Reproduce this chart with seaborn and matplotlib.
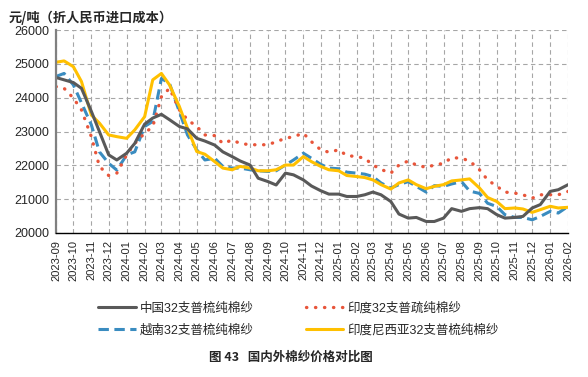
import pandas as pd
import matplotlib
matplotlib.use('Agg')
import matplotlib.pyplot as plt
import matplotlib.dates as mdates
import seaborn as sns
import numpy as np

# 半月度数据 (2023-09 ~ 2026-02)
dates = pd.date_range('2023-09-01', periods=59, freq='SMS')

china = [24600, 24530, 24450, 24280, 23600, 23000, 22310, 22160, 22360, 22650,
         23220, 23400, 23510, 23350, 23150, 23080, 22800, 22720, 22600, 22400,
         22260, 22130, 22010, 21620, 21520, 21420, 21770, 21720, 21570, 21390,
         21250, 21150, 21150, 21080, 21080, 21130, 21210, 21130, 20930, 20560,
         20440, 20460, 20340, 20340, 20440, 20720, 20640, 20720, 20750, 20720,
         20540, 20440, 20460, 20490, 20740, 20840, 21230, 21280, 21430]

india = [24330, 24280, 23990, 23640, 22850, 21970, 21700, 21770, 22310, 22650,
         22950, 23150, 24030, 24280, 23640, 23350, 23150, 22900, 22880, 22650,
         22750, 22650, 22610, 22610, 22610, 22700, 22800, 22850, 22950, 22700,
         22460, 22390, 22460, 22290, 22260, 22210, 22010, 21880, 21770, 22010,
         22130, 22010, 21940, 22010, 22060, 22230, 22210, 22130, 21870, 21570,
         21380, 21210, 21180, 21130, 21030, 21130, 21130, 21130, 21230]

vietnam = [24630, 24720, 24380, 23850, 23200, 22400, 22060, 21860, 22310, 22400,
           23150, 23300, 24570, 24420, 23590, 22900, 22460, 22160, 22210, 21970,
           21920, 21920, 21870, 21840, 21820, 21840, 22010, 22160, 22360, 22210,
           22030, 21920, 21900, 21800, 21770, 21740, 21670, 21480, 21330, 21430,
           21520, 21380, 21210, 21400, 21380, 21450, 21520, 21240, 21170, 20880,
           20780, 20540, 20460, 20460, 20390, 20490, 20640, 20590, 20790]

indonesia = [25050, 25090, 24920, 24480, 23490, 23250, 22900, 22850, 22800, 23050,
             23440, 24530, 24720, 24380, 23740, 23100, 22410, 22330, 22110, 21920,
             21870, 21970, 21920, 21840, 21840, 21870, 22010, 22010, 22260, 22110,
             21970, 21870, 21840, 21700, 21670, 21640, 21570, 21430, 21300, 21480,
             21570, 21430, 21310, 21380, 21430, 21540, 21570, 21600, 21330, 21050,
             20930, 20720, 20740, 20710, 20610, 20690, 20790, 20740, 20760]

series_names = ['中国32支普梳纯棉纱', '印度32支普疏纯棉纱', '越南32支普梳纯棉纱', '印度尼西亚32支普梳纯棉纱']
series_vals = [china, india, vietnam, indonesia]

tick_months = pd.date_range('2023-09-01', '2026-02-01', freq='MS')

sns.set_style('white')
plt.rcParams['font.family'] = ['Liberation Sans', 'Noto Sans CJK SC']
plt.rcParams['axes.unicode_minus'] = False

fig = plt.figure(figsize=(5.88, 3.77), dpi=100)
ax = fig.add_axes([0.0952, 0.382, 0.871, 0.538])

styles = {
    '中国32支普梳纯棉纱': dict(color='#595959', linestyle='-', linewidth=2.2),
    '印度32支普疏纯棉纱': dict(color='#E8553A', linestyle=(0, (0.1, 2.6)), linewidth=2.4,
                          dash_capstyle='round'),
    '越南32支普梳纯棉纱': dict(color='#3A8CC0', linestyle=(0, (3.4, 1.8)), linewidth=2.2),
    '印度尼西亚32支普梳纯棉纱': dict(color='#FFC000', linestyle='-', linewidth=2.2),
}

df = pd.DataFrame({'日期': np.tile(dates, 4),
                   '价格': np.concatenate(series_vals),
                   '品种': np.repeat(series_names, len(dates))})

# 绘制顺序：越南在底层
for name in ['越南32支普梳纯棉纱', '印度32支普疏纯棉纱', '印度尼西亚32支普梳纯棉纱', '中国32支普梳纯棉纱']:
    sub = df[df['品种'] == name]
    sns.lineplot(x='日期', y='价格', data=sub, ax=ax, label=name, **styles[name])

ax.set_xlim(tick_months[0], tick_months[-1])
ax.set_ylim(20000, 26000)
ax.set_yticks(range(20000, 26001, 1000))
ax.set_xticks(tick_months)
ax.xaxis.set_major_formatter(mdates.DateFormatter('%Y-%m'))
ax.tick_params(axis='x', rotation=90, labelsize=8, length=3, direction='out', pad=2)
ax.tick_params(axis='y', labelsize=9, length=3, direction='out', pad=2)
ax.set_xlabel('')
ax.set_ylabel('')

ax.grid(True, linestyle=(0, (4, 3)), color='#A6A6A6', linewidth=0.8)
ax.set_axisbelow(True)
for s in ['top', 'right']:
    ax.spines[s].set_visible(False)
ax.spines['left'].set_color('#808080')
ax.spines['left'].set_linewidth(1.6)
ax.spines['bottom'].set_color('black')
ax.spines['bottom'].set_linewidth(1.0)

fig.text(0.014, 0.972, '元/吨（折人民币进口成本）', fontsize=9.5, fontweight='bold',
         ha='left', va='top', family=['Noto Sans CJK SC'])

# 图例按列填充：第一列 中国/越南，第二列 印度/印尼
handles, labels = ax.get_legend_handles_labels()
legend_order = ['中国32支普梳纯棉纱', '越南32支普梳纯棉纱', '印度32支普疏纯棉纱', '印度尼西亚32支普梳纯棉纱']
order = [labels.index(n) for n in legend_order]
ax.get_legend().remove()
fig.legend([handles[i] for i in order], [labels[i] for i in order],
           loc='upper left', bbox_to_anchor=(0.148, 0.228), ncol=2, frameon=False,
           handlelength=3.0, handletextpad=0.3, columnspacing=4.2,
           labelspacing=0.75, prop={'family': ['Liberation Sans', 'Noto Sans CJK SC'], 'size': 9})

fig.text(0.495, 0.052, '图 43   国内外棉纱价格对比图', fontsize=9, fontweight='bold',
         ha='center', va='center', family=['Noto Sans CJK SC'])

fig.savefig('out.png', dpi=100)
